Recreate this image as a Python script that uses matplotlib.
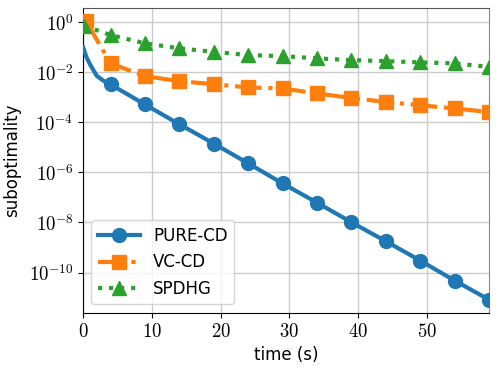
import numpy as np
import matplotlib
matplotlib.use('Agg')
import matplotlib.pyplot as plt
from matplotlib.ticker import FuncFormatter, FixedLocator

plt.rcParams['mathtext.fontset'] = 'cm'
plt.rcParams['font.size'] = 11

# PURE-CD: dense start, then markers every 5 s
t_pure = [0.0, 0.5, 1.0, 2.0, 3.0, 4.0, 9.0, 14.0, 19.0, 24.0, 29.0, 34.0, 39.0, 44.0, 49.0, 54.0, 59.0]
log_pure = [-1.0, -1.4, -1.68, -2.15, -2.35, -2.49, -3.29, -4.08, -4.85, -5.64, -6.44,
            -7.21, -7.99, -8.75, -9.52, -10.32, -11.08]
mark_pure = list(range(5, len(t_pure)))

t_vc = [0.4, 4.0, 9.0, 14.0, 19.0, 24.0, 29.0, 34.0, 39.0, 44.0, 49.0, 54.0, 59.0]
log_vc = [0.05, -1.65, -2.16, -2.36, -2.48, -2.61, -2.65, -2.85, -3.03, -3.19, -3.32, -3.45, -3.59]

t_sp = [0.2, 4.0, 9.0, 14.0, 19.0, 24.0, 29.0, 34.0, 39.0, 44.0, 49.0, 54.0, 59.0]
log_sp = [-0.15, -0.52, -0.85, -1.05, -1.19, -1.32, -1.36, -1.45, -1.52, -1.56, -1.61, -1.65, -1.79]

fig = plt.figure(figsize=(4.98, 3.72), dpi=100)
ax = fig.add_axes([0.1667, 0.1594, 0.8153, 0.8191])

ax.semilogy(t_pure, 10.0 ** np.array(log_pure), '-', color='#1f77b4', lw=3,
            marker='o', markersize=10, markevery=mark_pure, label='PURE-CD', zorder=3)
ax.semilogy(t_vc, 10.0 ** np.array(log_vc), '-.', color='#ff7f0e', lw=3,
            marker='s', markersize=10, label='VC-CD', zorder=3)
ax.semilogy(t_sp, 10.0 ** np.array(log_sp), ':', color='#2ca02c', lw=3,
            marker='^', markersize=10, label='SPDHG', zorder=3)

ax.set_xlim(0, 59)
ax.set_ylim(10 ** -11.6, 10 ** 0.56)
ax.yaxis.set_major_locator(FixedLocator([10.0 ** k for k in range(0, -11, -2)]))
ax.yaxis.set_minor_locator(FixedLocator([]))
ax.yaxis.set_major_formatter(FuncFormatter(lambda v, p: r'$10^{%d}$' % round(np.log10(v))))
ax.xaxis.set_major_locator(FixedLocator([0, 10, 20, 30, 40, 50]))
ax.xaxis.set_major_formatter(FuncFormatter(lambda v, p: r'$%d$' % v))
ax.tick_params(labelsize=13.5)

ax.grid(True, color='#cccccc', lw=1)
ax.set_axisbelow(True)
ax.spines['left'].set_color('black')
ax.spines['bottom'].set_color('black')
ax.spines['top'].set_color('#555555')
ax.spines['right'].set_color('#888888')

ax.set_xlabel('time (s)', fontsize=12, labelpad=3)
ax.set_ylabel('suboptimality', fontsize=12, labelpad=6)

ax.legend(loc='lower left', fontsize=12, handlelength=2.5)

fig.savefig('out.png', dpi=100)
